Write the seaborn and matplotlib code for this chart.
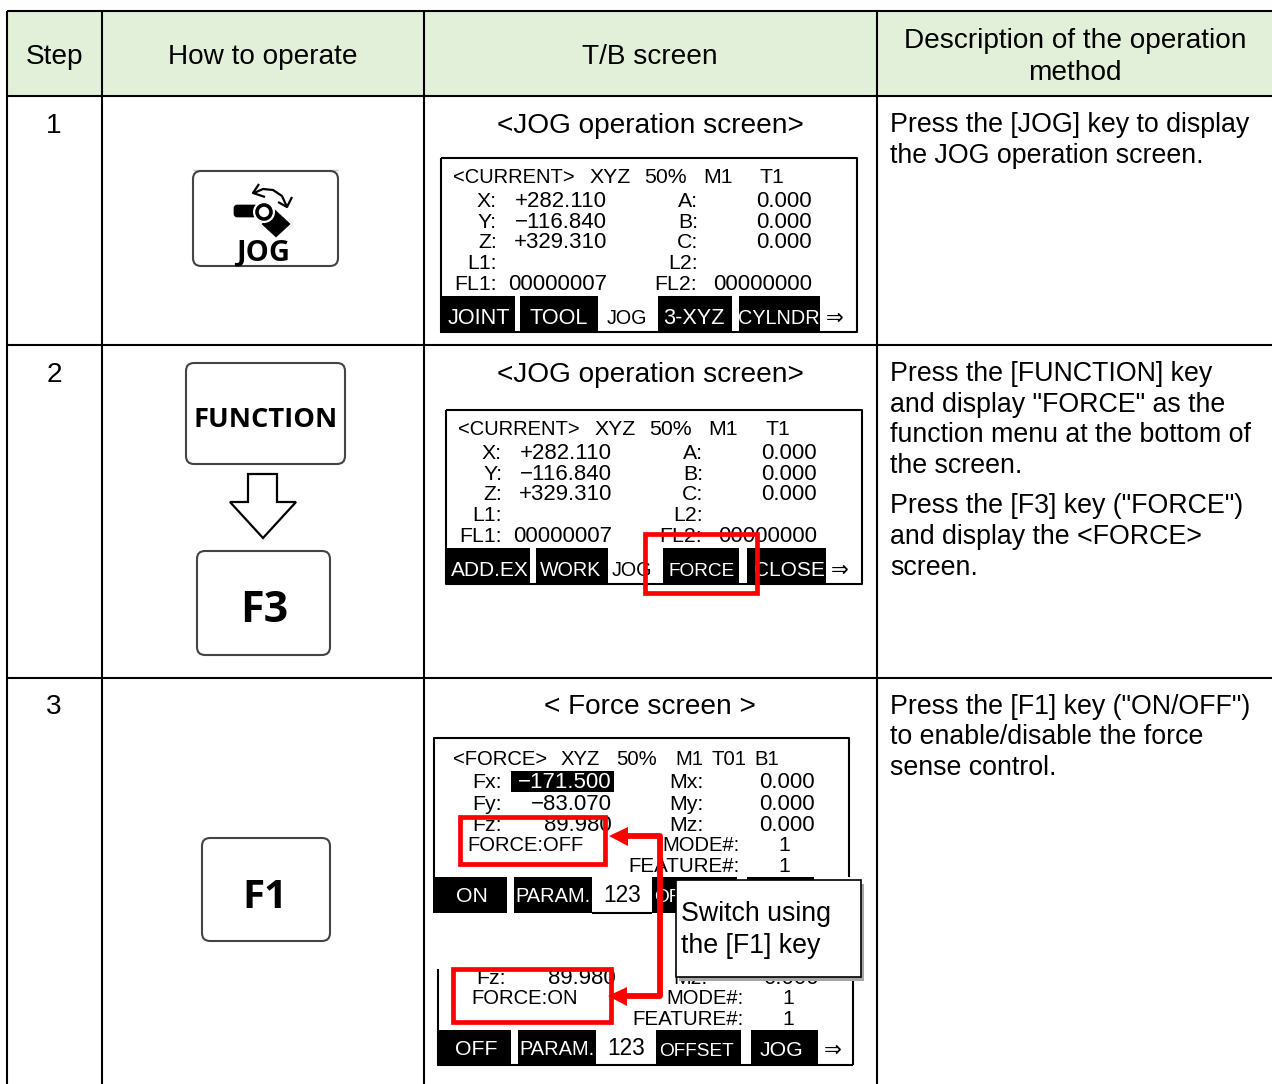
import matplotlib
matplotlib.use("Agg")
import matplotlib.pyplot as plt
import pandas as pd
import seaborn as sns
from matplotlib.patches import FancyBboxPatch, Polygon, Rectangle, Circle

# table text
header_labels = ["Step", "How to operate", "T/B screen"]
header_desc = ["Description of the operation", "method"]
step_labels = ["1", "2", "3"]
screen_titles = ["<JOG operation screen>", "<JOG operation screen>", "< Force screen >"]
desc_row1 = ["Press the [JOG] key to display", "the JOG operation screen."]
desc_row2 = ["Press the [FUNCTION] key", 'and display "FORCE" as the',
             "function menu at the bottom of", "the screen."]
desc_row2b = ['Press the [F3] key ("FORCE")', "and display the <FORCE>", "screen."]
desc_row3 = ['Press the [F1] key ("ON/OFF")', "to enable/disable the force",
             "sense control."]

# teaching box screen text
jog_status = ["<CURRENT>", "XYZ", "50%", "M1", "T1"]
jog_axes_left = ["X:", "Y:", "Z:", "L1:"]
jog_values_left = ["+282.110", "\u2212116.840", "+329.310"]
jog_axes_right = ["A:", "B:", "C:", "L2:"]
jog_values_right = ["0.000", "0.000", "0.000"]
jog_flags = ["FL1:", "00000007", "FL2:", "00000000"]
keys_jog = ["JOINT", "TOOL", "3-XYZ", "CYLNDR"]
keys_function = ["ADD.EX", "WORK", "FORCE", "CLOSE"]
force_status = ["<FORCE>", "XYZ", "50%", "M1", "T01", "B1"]
force_labels = ["Fx:", "Fy:", "Fz:"]
force_values = ["\u2212171.500", "\u221283.070", "89.980"]
moment_labels = ["Mx:", "My:", "Mz:"]
moment_values = ["0.000", "0.000", "0.000"]
callout_lines = ["Switch using", "the [F1] key"]

sns.set_theme(style="white")
plt.rcParams["font.family"] = ["Liberation Sans", "DejaVu Sans"]

BODY = 19.25
HEAD = 20.15
SCR = 15.3
NUM = 16
fig = plt.figure(figsize=(12.72, 10.84), dpi=100)
ax = fig.add_axes([0, 0, 1, 1])
ax.set_xlim(0, 1272)
ax.set_ylim(1084, 0)
ax.axis("off")


def rule(xs, ys, color="black", lw=1.5, z=2):
    df = pd.DataFrame({"x": xs, "y": ys})
    sns.lineplot(data=df, x="x", y="y", color=color, linewidth=lw, sort=False,
                 estimator=None, ax=ax, zorder=z, solid_capstyle="butt")


def txt(x, y, s, size=BODY, ha="left", color="black", z=5, **kw):
    ax.text(x, y, s, fontsize=size, ha=ha, va="baseline", color=color, zorder=z, **kw)


def key_box(x0, y0, x1, y1):
    ax.add_patch(FancyBboxPatch((x0 + 8, y0 + 8), x1 - x0 - 16, y1 - y0 - 16,
                                boxstyle="round,pad=8", fc="white", ec="#444444", lw=1.5, zorder=3))


def black(x0, y0, x1, y1, z=3):
    ax.add_patch(Rectangle((x0, y0), x1 - x0, y1 - y0, fc="black", ec="none", zorder=z))


# header fill and table rules
ax.add_patch(Rectangle((7, 11), 1265, 85, fc="#E2EFD9", ec="none", zorder=1))
for x in [7, 102, 424, 877]:
    rule([x, x], [11, 1084])
for y in [11, 96, 345, 678]:
    rule([7, 1272], [y, y])

for cx, s in zip([55, 263, 650], header_labels):
    txt(cx, 64, s, size=HEAD, ha="center")
txt(1075, 48, header_desc[0], size=HEAD, ha="center")
txt(1075, 80, header_desc[1], size=HEAD, ha="center")

for s, t, by in zip(step_labels, screen_titles, [133, 382, 714]):
    txt(54, by, s, size=HEAD, ha="center")
    txt(650, by, t, size=HEAD, ha="center")

for lines, ys in [(desc_row1, [132, 163]), (desc_row2, [381, 412, 442, 473]),
                  (desc_row2b, [513, 544, 575]), (desc_row3, [714, 744, 775])]:
    for s, y in zip(lines, ys):
        txt(890, y, s)

# key icons
rule([193, 338], [169.5, 169.5], color="#C8C8C8", lw=1)
key_box(193, 171, 338, 266)
ax.add_patch(FancyBboxPatch((237, 208), 18, 6, boxstyle="round,pad=3", fc="black", ec="black", lw=0.5, zorder=4))
ax.add_patch(Polygon([(275, 210), (290, 224), (276, 237), (262, 224)], fc="black", ec="black", lw=0.5, zorder=4))
ax.add_patch(Circle((264, 212), 11, fc="white", ec="none", zorder=4.5))
ax.add_patch(Circle((264, 212), 7, fc="white", ec="black", lw=2.6, zorder=5))
rule([254, 263, 273, 282, 287], [193, 189, 190, 196, 207], lw=1.6, z=4)
rule([259, 253, 265], [184, 193, 197], lw=1.6, z=4)
rule([278, 287, 292], [202, 207, 197], lw=1.6, z=4)
txt(263, 261, "JOG", size=21, ha="center", family="Open Sans", weight="bold")

key_box(186, 363, 345, 464)
txt(266, 427, "FUNCTION", size=19.6, ha="center", family="Open Sans", weight="bold")
ax.add_patch(Polygon([(248, 474), (277, 474), (277, 502), (296, 502), (263, 538), (230, 502), (248, 502)],
                     fc="white", ec="black", lw=1.6, zorder=3))
key_box(197, 551, 330, 655)
txt(264, 622, "F3", size=31, ha="center", family="Open Sans", weight="bold")
key_box(202, 838, 330, 941)
txt(265, 908, "F1", size=29, ha="center", family="Open Sans", weight="bold")


def jog_screen(dx, dy, keys, key_spans, key_text_x, key_sizes):
    rule([441 + dx, 857 + dx, 857 + dx, 441 + dx, 441 + dx],
         [158 + dy, 158 + dy, 332 + dy, 332 + dy, 158 + dy], lw=1.5)
    txt(453 + dx, 183 + dy, jog_status[0], size=14.5)
    for s, x in zip(jog_status[1:], [590, 644, 703, 760]):
        txt(x + dx, 183 + dy, s, size=SCR)
    for s, y in zip(jog_axes_left, [207, 228, 248, 269]):
        txt(497 + dx, y + dy, s, size=SCR, ha="right")
    for s, y in zip(jog_values_left, [207, 228, 248]):
        txt(607 + dx, y + dy, s, size=NUM, ha="right")
    for s, y in zip(jog_axes_right, [207, 228, 248, 269]):
        txt(698 + dx, y + dy, s, size=SCR, ha="right")
    for s, y in zip(jog_values_right, [207, 228, 248]):
        txt(812 + dx, y + dy, s, size=NUM, ha="right")
    txt(454 + dx, 290 + dy, jog_flags[0], size=SCR)
    txt(607 + dx, 290 + dy, jog_flags[1], size=NUM, ha="right")
    txt(654 + dx, 290 + dy, jog_flags[2], size=SCR)
    txt(812 + dx, 290 + dy, jog_flags[3], size=NUM, ha="right")
    for s, (x0, x1), tx, fs in zip(keys, key_spans, key_text_x, key_sizes):
        black(x0 + dx, 296 + dy, x1 + dx, 333 + dy)
        txt(tx + dx, 324 + dy, s, size=fs, ha="center", color="white")
    txt(627 + dx, 324 + dy, "JOG", size=14.2, ha="center")
    txt(835 + dx, 324 + dy, "\u21d2", size=SCR, ha="center", family="DejaVu Sans")


jog_screen(0, 0, keys_jog, [(440, 515), (520, 598), (658, 732), (739, 820)],
           [479, 559, 694, 779], [15.6, 15.6, 15.6, 14.3])
jog_screen(5, 252, keys_function, [(441, 525), (531, 603), (658, 734), (742, 821)],
           [485, 566, 697, 784], [15, 14.2, 13.7, 15])

# red frame around F3 softkey
ax.add_patch(Rectangle((645, 534), 112, 59, fc="none", ec="#FF0000", lw=3.4, zorder=6))


def force_keys(dx, dy, first):
    black(433 + dx, 877 + dy, 507 + dx, 913 + dy)
    black(514 + dx, 877 + dy, 592 + dx, 913 + dy)
    txt(472 + dx, 902 + dy, first, size=SCR, ha="center", color="white")
    txt(553 + dx, 902 + dy, "PARAM.", size=14.4, ha="center", color="white")
    txt(622 + dx, 902 + dy, "123", size=16.3, ha="center")
    black(652 + dx, 877 + dy, 737 + dx, 913 + dy)
    black(747 + dx, 877 + dy, 814 + dx, 913 + dy)


# upper force screen
rule([434, 434, 849, 849], [877, 738, 738, 877], lw=1.5)
rule([592, 652], [913, 913], lw=1.5)
for s, x in zip(force_status, [453, 561, 616, 675, 711, 754]):
    txt(x, 765, s, size=14.6)
black(511, 771, 614, 792)
for s, y in zip(force_labels, [788, 810, 831]):
    txt(472, y, s, size=SCR)
for s, y, c in zip(force_values, [788, 810, 831], ["white", "black", "black"]):
    txt(612, y, s, size=NUM, ha="right", color=c)
for s, y, v in zip(moment_labels, [788, 810, 831], moment_values):
    txt(669, y, s, size=SCR)
    txt(815, y, v, size=NUM, ha="right")
txt(467, 851, "FORCE:OFF", size=14.5)
txt(740, 851, "MODE#:", size=14.5, ha="right")
txt(790, 851, "1", size=SCR, ha="right")
txt(740, 872, "FEATURE#:", size=14.8, ha="right")
txt(790, 872, "1", size=SCR, ha="right")
force_keys(0, 0, "ON")
txt(654, 902, "OF", size=13.7, color="white")

# lower force screen, cut off at the top
rule([438, 438], [969, 1065], lw=1.5)
rule([853, 853], [975, 1065], lw=1.5)
rule([438, 853], [1065, 1065], lw=1.5)
txt(476, 984, "Fz:", size=SCR)
txt(616, 984, force_values[2], size=NUM, ha="right")
txt(673, 984, moment_labels[2], size=SCR)
txt(819, 984, moment_values[2], size=NUM, ha="right")
txt(471, 1004, "FORCE:ON", size=14.6)
txt(744, 1004, "MODE#:", size=14.5, ha="right")
txt(794, 1004, "1", size=SCR, ha="right")
txt(744, 1025, "FEATURE#:", size=14.8, ha="right")
txt(794, 1025, "1", size=SCR, ha="right")
force_keys(4, 153, "OFF")
txt(696, 1056, "OFFSET", size=13.7, ha="center", color="white")
txt(781, 1056, "JOG", size=SCR, ha="center", color="white")
txt(833, 1056, "\u21d2", size=SCR, ha="center", family="DejaVu Sans")
ax.add_patch(Rectangle((440, 950), 230, 19, fc="white", ec="none", zorder=5.5))

# red markers and arrows
ax.add_patch(Rectangle((460, 817), 145, 47, fc="none", ec="#FF0000", lw=3.4, zorder=6))
ax.add_patch(Rectangle((453, 969), 158, 53, fc="none", ec="#FF0000", lw=3.4, zorder=6))
rule([626, 660, 660, 626], [836, 836, 996, 996], color="#FF0000", lw=4.2, z=6)
ax.add_patch(Polygon([(609, 836), (628, 827), (628, 846)], fc="#FF0000", ec="none", zorder=6))
ax.add_patch(Polygon([(608, 996), (627, 987), (627, 1006)], fc="#FF0000", ec="none", zorder=6))

# callout
ax.add_patch(Rectangle((679, 884), 185, 97, fc="#A6A6A6", ec="none", zorder=7))
ax.add_patch(Rectangle((676, 880), 185, 97, fc="white", ec="black", lw=1.2, zorder=7.5))
txt(681, 921, callout_lines[0], z=8)
txt(681, 953, callout_lines[1], z=8)

plt.savefig("out.png", dpi=100)
